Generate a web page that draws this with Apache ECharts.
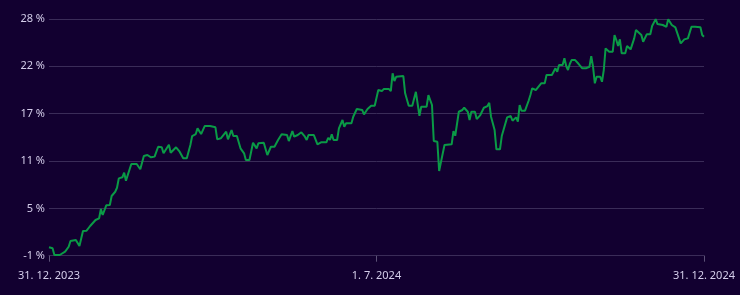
<!DOCTYPE html>
<html>
<head>
<meta charset="utf-8">
<script src="https://cdn.jsdelivr.net/npm/echarts@6/dist/echarts.min.js"></script>
<style>
html,body{margin:0;padding:0;background:#120030;}
#c{width:740px;height:295px;}
</style>
</head>
<body>
<div id="c"></div>
<script>
const dates = [
'2023-12-31','2024-01-02','2024-01-03','2024-01-06','2024-01-09','2024-01-11','2024-01-12','2024-01-15','2024-01-16','2024-01-17',
'2024-01-19','2024-01-21','2024-01-23','2024-01-26','2024-01-28','2024-01-29','2024-01-30','2024-02-01','2024-02-03','2024-02-04',
'2024-02-06','2024-02-07','2024-02-08','2024-02-10','2024-02-11','2024-02-12','2024-02-15','2024-02-18','2024-02-20','2024-02-21',
'2024-02-22','2024-02-24','2024-02-26','2024-02-28','2024-03-01','2024-03-03','2024-03-04','2024-03-07','2024-03-08','2024-03-09',
'2024-03-11','2024-03-13','2024-03-15','2024-03-17','2024-03-19','2024-03-20','2024-03-22','2024-03-23','2024-03-24','2024-03-25',
'2024-03-27','2024-03-30','2024-04-02','2024-04-03','2024-04-05','2024-04-06','2024-04-08','2024-04-09','2024-04-11','2024-04-12',
'2024-04-14','2024-04-16','2024-04-18','2024-04-19','2024-04-21','2024-04-23','2024-04-25','2024-04-26','2024-04-29','2024-05-01',
'2024-05-03','2024-05-05','2024-05-07','2024-05-09','2024-05-12','2024-05-13','2024-05-15','2024-05-16','2024-05-18','2024-05-20',
'2024-05-22','2024-05-23','2024-05-24','2024-05-27','2024-05-29','2024-05-31','2024-06-03','2024-06-04','2024-06-05','2024-06-06',
'2024-06-07','2024-06-09','2024-06-10','2024-06-12','2024-06-13','2024-06-14','2024-06-17','2024-06-18','2024-06-20','2024-06-23',
'2024-06-24','2024-06-26','2024-06-28','2024-06-30','2024-07-01','2024-07-02','2024-07-03','2024-07-04','2024-07-05','2024-07-08',
'2024-07-09','2024-07-10','2024-07-11','2024-07-12','2024-07-16','2024-07-17','2024-07-19','2024-07-21','2024-07-23','2024-07-25',
'2024-07-26','2024-07-29','2024-07-30','2024-08-01','2024-08-02','2024-08-04','2024-08-05','2024-08-06','2024-08-08','2024-08-12',
'2024-08-13','2024-08-14','2024-08-16','2024-08-18','2024-08-19','2024-08-21','2024-08-22','2024-08-23','2024-08-25','2024-08-26',
'2024-08-28','2024-08-30','2024-09-01','2024-09-02','2024-09-03','2024-09-05','2024-09-06','2024-09-08','2024-09-09','2024-09-10',
'2024-09-12','2024-09-14','2024-09-15','2024-09-17','2024-09-18','2024-09-19','2024-09-20','2024-09-22','2024-09-24','2024-09-25',
'2024-09-26','2024-09-28','2024-09-29','2024-10-01','2024-10-03','2024-10-04','2024-10-07','2024-10-08','2024-10-09','2024-10-10',
'2024-10-11','2024-10-13','2024-10-14','2024-10-15','2024-10-16','2024-10-17','2024-10-18','2024-10-20','2024-10-22','2024-10-24',
'2024-10-26','2024-10-28','2024-10-29','2024-10-30','2024-10-31','2024-11-01','2024-11-03','2024-11-04','2024-11-05','2024-11-06',
'2024-11-08','2024-11-10','2024-11-11','2024-11-12','2024-11-13','2024-11-14','2024-11-15','2024-11-17','2024-11-18','2024-11-20',
'2024-11-22','2024-11-23','2024-11-24','2024-11-26','2024-11-27','2024-11-28','2024-11-29','2024-12-01','2024-12-02','2024-12-04',
'2024-12-05','2024-12-08','2024-12-10','2024-12-11','2024-12-13','2024-12-15','2024-12-16','2024-12-18','2024-12-20','2024-12-22',
'2024-12-24','2024-12-26','2024-12-29','2024-12-30','2024-12-31'
];
const returns = [
-0.15,-0.28,-1.11,-1.11,-0.70,-0.08,0.63,0.76,0.63,0.01,
1.88,1.92,2.50,3.25,3.46,4.62,3.87,5.08,5.12,6.24,
6.77,7.27,8.44,8.57,9.14,8.15,10.23,10.23,9.57,9.48,
11.22,11.35,11.06,11.15,12.38,12.31,11.56,12.63,11.63,11.76,
12.31,11.76,10.94,10.94,12.59,13.71,13.96,14.67,14.67,13.96,
14.96,14.96,14.80,13.30,13.43,13.43,14.25,13.30,14.46,13.71,
13.71,12.18,11.56,10.72,10.72,12.88,12.18,12.80,12.88,11.35,
12.38,12.38,13.22,13.93,13.84,13.09,14.34,13.63,13.84,14.18,
13.63,13.22,13.84,13.84,12.68,12.93,12.93,13.50,13.22,13.93,
13.22,13.22,14.67,15.71,14.87,15.30,15.30,16.12,17.08,16.96,
16.42,17.08,17.49,17.49,17.66,19.45,19.66,19.32,19.57,19.57,
19.32,21.53,20.57,21.10,21.19,19.04,17.49,17.49,19.23,16.24,
17.37,17.37,18.82,17.58,13.09,13.00,9.35,10.44,12.59,12.68,
14.34,13.75,16.74,16.96,17.24,16.74,15.71,16.74,16.74,15.83,
16.33,17.24,17.45,17.86,16.12,14.46,12.06,12.06,13.71,13.84,
16.04,16.21,15.62,16.04,15.50,17.58,16.87,16.87,18.11,18.82,
19.66,19.45,19.23,20.28,20.28,21.32,21.32,21.53,22.15,21.73,
22.56,22.56,23.40,22.44,21.94,22.69,23.18,23.18,22.69,22.15,
22.15,22.35,23.68,22.35,20.28,21.10,21.10,20.48,21.94,24.64,
24.22,24.22,26.30,25.68,24.93,25.76,24.02,24.02,24.93,24.52,
25.89,26.92,26.92,26.30,25.46,25.68,26.39,26.39,27.42,28.28,
27.67,27.55,27.33,28.28,27.55,27.26,27.42,25.26,25.76,25.89,
27.33,27.33,27.26,26.30,26.09
];
const yTickValues = [-1.2, 4.7, 10.6, 16.5, 22.4, 28.3];
const yTickLabels = ['-1 %', '5 %', '11 %', '17 %', '22 %', '28 %'];
const xTickDates = ['2023-12-31', '2024-07-01', '2024-12-31'];
const xTickLabels = ['31. 12. 2023', '1. 7. 2024', '31. 12. 2024'];

const toTs = s => { const p = s.split('-').map(Number); return Date.UTC(p[0], p[1]-1, p[2]); };
const xTickTs = xTickDates.map(toTs);
const seriesData = dates.map((d, i) => [toTs(d), returns[i]]);
const nearest = (arr, v) => { let b = 0; arr.forEach((t, i) => { if (Math.abs(t - v) < Math.abs(arr[b] - v)) b = i; }); return b; };

const labelColor = '#d4cdea';
const gridColor = '#3a2c58';
const chart = echarts.init(document.getElementById('c'), null, {renderer: 'canvas'});
chart.setOption({
  backgroundColor: '#120030',
  animation: false,
  grid: {left: 49, right: 36, top: 19, bottom: 39.3, containLabel: false},
  xAxis: {
    type: 'value',
    min: xTickTs[0],
    max: xTickTs[2],
    axisLine: {show: true, onZero: false, lineStyle: {color: gridColor, width: 1}},
    axisTick: {show: true, customValues: xTickTs, length: 6, lineStyle: {color: '#5c5278'}},
    splitLine: {show: false},
    axisLabel: {
      customValues: xTickTs,
      color: labelColor,
      fontFamily: 'Noto Sans',
      fontSize: 11,
      margin: 15,
      showMinLabel: true,
      showMaxLabel: true,
      formatter: v => xTickLabels[nearest(xTickTs, v)]
    }
  },
  yAxis: {
    type: 'value',
    min: yTickValues[0],
    max: yTickValues[yTickValues.length - 1],
    axisLine: {show: false},
    axisTick: {show: false, customValues: yTickValues},
    splitLine: {show: true, lineStyle: {color: gridColor, width: 1}},
    axisLabel: {
      customValues: yTickValues,
      color: labelColor,
      fontFamily: 'Noto Sans',
      fontSize: 11,
      margin: 4,
      formatter: v => yTickLabels[nearest(yTickValues, v)]
    }
  },
  series: [{
    type: 'line',
    data: seriesData,
    showSymbol: false,
    clip: false,
    lineStyle: {color: '#0a9a46', width: 2},
    itemStyle: {color: '#0a9a46'}
  }]
});
</script>
</body>
</html>
